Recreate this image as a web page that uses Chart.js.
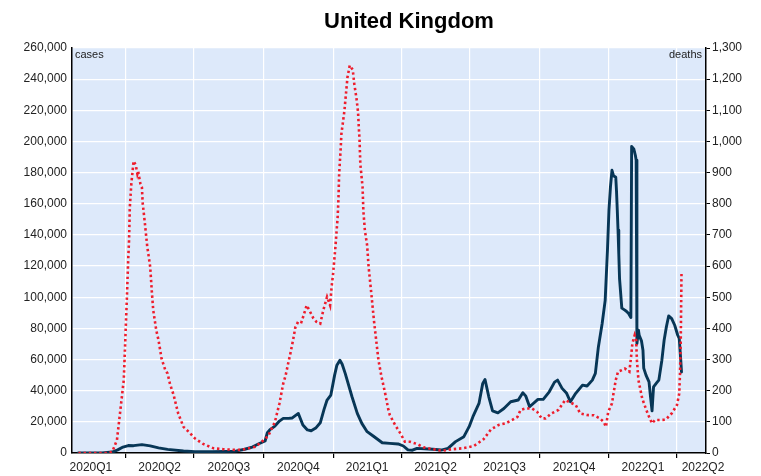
<!DOCTYPE html>
<html lang="en">
<head>
  <meta charset="UTF-8" />
  <title>United Kingdom</title>
  <script src="https://cdn.jsdelivr.net/npm/chart.js"></script>
  <style>
    body { margin: 0; background: #fff; }
    canvas { display: block; }
  </style>
</head>
<body>
  <canvas id="chart" width="761" height="476"></canvas>

  <script>
    // 7-day averages
    const caseDates = [
      '2020-01-30','2020-03-01','2020-03-15','2020-03-22','2020-03-29','2020-04-05','2020-04-12','2020-04-23',
      '2020-05-04','2020-05-15','2020-05-27','2020-06-17','2020-07-02','2020-07-25','2020-08-10','2020-08-25',
      '2020-09-06','2020-09-16','2020-09-24','2020-10-03','2020-10-06','2020-10-10','2020-10-16','2020-10-22',
      '2020-10-27','2020-11-03','2020-11-08','2020-11-12','2020-11-16','2020-11-22','2020-11-28','2020-12-03',
      '2020-12-09','2020-12-15','2020-12-20','2020-12-24','2020-12-29','2021-01-03','2021-01-06','2021-01-10',
      '2021-01-13','2021-01-17','2021-01-26','2021-02-02','2021-02-08','2021-02-15','2021-02-23','2021-03-07',
      '2021-03-17','2021-03-28','2021-04-04','2021-04-10','2021-04-16','2021-04-22','2021-05-13','2021-05-24',
      '2021-06-02','2021-06-12','2021-06-23','2021-06-30','2021-07-05','2021-07-13','2021-07-18','2021-07-21',
      '2021-07-26','2021-07-31','2021-08-07','2021-08-15','2021-08-24','2021-09-03','2021-09-09','2021-09-13',
      '2021-09-18','2021-09-29','2021-10-06','2021-10-14','2021-10-21','2021-10-25','2021-10-31','2021-11-06',
      '2021-11-11','2021-11-18','2021-11-27','2021-12-03','2021-12-10','2021-12-14','2021-12-18','2021-12-23',
      '2021-12-27','2021-12-30','2022-01-01','2022-01-03','2022-01-05','2022-01-07','2022-01-10','2022-01-11',
      '2022-01-12','2022-01-13','2022-01-14','2022-01-15','2022-01-18','2022-01-22','2022-01-24','2022-01-27',
      '2022-01-30','2022-01-31','2022-02-03','2022-02-05','2022-02-06','2022-02-07','2022-02-09','2022-02-10',
      '2022-02-13','2022-02-15','2022-02-16','2022-02-19','2022-02-23','2022-02-25','2022-02-27','2022-03-01',
      '2022-03-05','2022-03-08','2022-03-12','2022-03-15','2022-03-18','2022-03-21','2022-03-25','2022-03-29',
      '2022-04-02','2022-04-04','2022-04-06','2022-04-07'
    ];
    const caseValues = [
      0, 100, 600, 2000, 3800, 4800, 4700, 5400,
      4600, 3300, 2300, 1300, 900, 800, 1000, 1200,
      2400, 3800, 5800, 7700, 13000, 15200, 17300, 20500,
      22200, 22200, 22500, 24000, 25400, 18000, 14800, 14300,
      16000, 19400, 28000, 34000, 37200, 50000, 56400, 59600,
      57000, 51100, 36100, 25400, 19000, 13700, 10900, 6600,
      6200, 5800, 4500, 2000, 1800, 3000, 2400, 1900,
      3000, 7300, 10500, 16900, 23300, 31800, 44700, 47200,
      36100, 27100, 25800, 28600, 32900, 34000, 38700, 36500,
      29700, 34400, 34400, 39300, 45500, 46800, 41500, 38300,
      32900, 38300, 43600, 43000, 46800, 51100, 68100, 83100,
      98000, 130000, 156000, 171000, 181500, 178000, 177000, 168000,
      156000, 143000, 128000, 112000, 93000, 91700, 91000, 89500,
      87000, 196800, 195000, 191000, 188000, 70300, 78800, 75600,
      72000, 66000, 54500, 50000, 45700, 36000, 27100, 42500,
      45000, 46800, 59600, 72400, 81000, 88000, 86300, 82000,
      75600, 73500, 59600, 52000
    ];

    const deathDates = [
      '2020-01-30','2020-03-10','2020-03-15','2020-03-21','2020-03-25','2020-03-30','2020-04-01','2020-04-03',
      '2020-04-05','2020-04-06','2020-04-07','2020-04-09','2020-04-12','2020-04-15','2020-04-17','2020-04-18',
      '2020-04-21','2020-04-23','2020-04-24','2020-04-27','2020-04-30','2020-05-04','2020-05-06','2020-05-08',
      '2020-05-12','2020-05-15','2020-05-19','2020-05-24','2020-05-27','2020-05-30','2020-06-04','2020-06-10',
      '2020-06-17','2020-06-24','2020-07-02','2020-07-13','2020-07-27','2020-08-09','2020-08-24','2020-09-02',
      '2020-09-11','2020-09-20','2020-09-26','2020-10-07','2020-10-16','2020-10-22','2020-10-27','2020-10-30',
      '2020-11-03','2020-11-05','2020-11-09','2020-11-12','2020-11-16','2020-11-20','2020-11-23','2020-11-27',
      '2020-12-01','2020-12-06','2020-12-10','2020-12-15','2020-12-19','2020-12-24','2020-12-28','2020-12-30',
      '2021-01-01','2021-01-04','2021-01-07','2021-01-08','2021-01-09','2021-01-11','2021-01-12','2021-01-16',
      '2021-01-18','2021-01-20','2021-01-23','2021-01-27','2021-01-29','2021-02-01','2021-02-03','2021-02-04',
      '2021-02-05','2021-02-06','2021-02-09','2021-02-10','2021-02-12','2021-02-15','2021-02-17','2021-02-21',
      '2021-02-24','2021-02-27','2021-03-02','2021-03-06','2021-03-11','2021-03-15','2021-03-17','2021-03-24',
      '2021-03-31','2021-04-06','2021-04-13','2021-04-22','2021-05-01','2021-05-12','2021-05-25','2021-06-07',
      '2021-06-21','2021-07-06','2021-07-19','2021-07-29','2021-08-08','2021-08-17','2021-08-26','2021-09-02',
      '2021-09-06','2021-09-13','2021-09-21','2021-09-28','2021-10-04','2021-10-09','2021-10-17','2021-10-26',
      '2021-11-04','2021-11-09','2021-11-18','2021-11-24','2021-12-03','2021-12-12','2021-12-20','2021-12-25',
      '2021-12-28','2021-12-31','2022-01-05','2022-01-07','2022-01-10','2022-01-13','2022-01-18','2022-01-22',
      '2022-01-28','2022-01-30','2022-02-01','2022-02-04','2022-02-06','2022-02-07','2022-02-09','2022-02-14',
      '2022-02-18','2022-02-22','2022-02-27','2022-03-03','2022-03-10','2022-03-17','2022-03-25','2022-04-01',
      '2022-04-04','2022-04-05','2022-04-06','2022-04-07'
    ];
    const deathValues = [
      0, 0, 5, 42, 127, 234, 362, 490,
      629, 683, 789, 864, 937, 923, 896, 905,
      864, 853, 803, 736, 664, 597, 522, 458,
      394, 362, 303, 266, 255, 223, 186, 127,
      84, 68, 47, 29, 15, 12, 10, 10,
      15, 20, 31, 54, 100, 159, 223, 247,
      293, 314, 362, 403, 423, 420, 442, 474,
      456, 432, 421, 415, 458, 501, 474, 533,
      576, 660, 757, 811, 896, 977, 1025, 1099,
      1153, 1206, 1244, 1230, 1185, 1137, 1094, 1046,
      1003, 928, 853, 779, 715, 667, 597, 501,
      426, 362, 298, 245, 190, 140, 122, 90,
      63, 36, 36, 29, 18, 13, 7, 12,
      15, 22, 44, 76, 90, 95, 106, 116,
      138, 143, 143, 132, 111, 111, 127, 138,
      170, 164, 154, 127, 122, 121, 111, 100,
      84, 132, 159, 191, 234, 261, 266, 271,
      261, 303, 352, 378, 362, 298, 234, 175,
      148, 122, 95, 106, 106, 107, 127, 154,
      191, 255, 362, 581
    ];

    const quarterLabels = ['2020Q1','2020Q2','2020Q3','2020Q4','2021Q1','2021Q2','2021Q3','2021Q4','2022Q1','2022Q2'];
    const quarterStarts = ['2020-01-01','2020-04-01','2020-07-01','2020-10-01','2021-01-01','2021-04-01',
                           '2021-07-01','2021-10-01','2022-01-01','2022-04-01','2022-07-01'];

    function dayNum(s) {
      const [y, m, d] = s.split('-').map(Number);
      return (Date.UTC(y, m - 1, d) - Date.UTC(2020, 0, 1)) / 86400000;
    }

    const xMin = dayNum('2020-01-21') + 0.5;
    const xMax = dayNum('2022-05-09') + 0.4;

    // gridlines sit on quarter boundaries, labels in the middle of each quarter
    const boundaries = quarterStarts.map(dayNum).filter(v => v > xMin && v < xMax);
    const labelAt = {};
    quarterLabels.forEach((q, i) => {
      const a = dayNum(quarterStarts[i]), b = dayNum(quarterStarts[i + 1]);
      labelAt[Math.min((a + b) / 2, xMax - 4)] = q;
    });
    const tickValues = boundaries.concat(Object.keys(labelAt).map(Number)).sort((a, b) => a - b);
    const isBoundary = v => boundaries.includes(v);

    const fmt = v => Number(v).toLocaleString('en-US');

    const decor = {
      id: 'decor',
      beforeDraw(chart) {
        const { ctx, chartArea: a } = chart;
        ctx.save();
        ctx.fillStyle = '#dde9fa';
        ctx.fillRect(a.left, a.top, a.right - a.left, a.bottom - a.top);
        ctx.restore();
      },
      afterDraw(chart) {
        const { ctx, chartArea: a } = chart;
        ctx.save();
        ctx.fillStyle = '#000';
        ctx.font = 'bold 22px "Liberation Sans", Arial, sans-serif';
        ctx.textAlign = 'center';
        ctx.textBaseline = 'alphabetic';
        ctx.fillText('United Kingdom', 409, 28);
        ctx.font = '11px "Liberation Sans", Arial, sans-serif';
        ctx.fillStyle = '#222';
        ctx.textBaseline = 'middle';
        ctx.textAlign = 'left';
        ctx.fillText('cases', a.left + 3, a.top + 7);
        ctx.textAlign = 'right';
        ctx.fillText('deaths', a.right - 4, a.top + 7);
        ctx.restore();
      }
    };

    function renderChart() {
      const ctx = document.getElementById('chart').getContext('2d');
      new Chart(ctx, {
        type: 'line',
        data: {
          datasets: [
            {
              label: 'deaths',
              data: deathDates.map((d, i) => ({ x: dayNum(d), y: deathValues[i] })),
              yAxisID: 'y1',
              borderColor: '#ee1c2b',
              borderWidth: 2.6,
              borderDash: [2.4, 2.8],
              pointRadius: 0,
              fill: false,
              order: 0
            },
            {
              label: 'cases',
              data: caseDates.map((d, i) => ({ x: dayNum(d), y: caseValues[i] })),
              yAxisID: 'y',
              borderColor: '#073656',
              borderWidth: 2.9,
              borderJoinStyle: 'round',
              borderCapStyle: 'round',
              pointRadius: 0,
              fill: false,
              order: 1
            }
          ]
        },
        options: {
          responsive: false,
          animation: false,
          layout: { padding: { top: 48, left: 0, right: 0, bottom: 0 } },
          plugins: {
            legend: { display: false },
            title: { display: false },
            tooltip: { enabled: false }
          },
          scales: {
            x: {
              type: 'linear',
              min: xMin,
              max: xMax,
              afterBuildTicks: s => { s.ticks = tickValues.map(v => ({ value: v })); },
              afterFit: s => { s.height = 23; },
              ticks: {
                autoSkip: false,
                maxRotation: 0,
                padding: 2,
                color: '#222',
                font: { family: '"Liberation Sans", Arial, sans-serif', size: 12 },
                callback: v => labelAt[v] || ''
              },
              grid: {
                color: c => (c.tick && isBoundary(c.tick.value)) ? '#ffffff' : 'rgba(0,0,0,0)',
                tickColor: c => (c.tick && isBoundary(c.tick.value)) ? '#000' : 'rgba(0,0,0,0)',
                tickLength: 5,
                lineWidth: 1.2
              },
              border: { color: '#000', width: 1.5 }
            },
            y: {
              position: 'left',
              min: 0,
              max: 260000,
              afterFit: s => { s.width = 72; },
              ticks: {
                stepSize: 20000,
                padding: 5,
                color: '#222',
                font: { family: '"Liberation Sans", Arial, sans-serif', size: 12 },
                callback: fmt
              },
              grid: { color: '#ffffff', lineWidth: 1.2, drawTicks: false },
              border: { color: '#000', width: 1.5 }
            },
            y1: {
              position: 'right',
              min: 0,
              max: 1300,
              afterFit: s => { s.width = 55; },
              ticks: {
                stepSize: 100,
                padding: 2,
                color: '#222',
                font: { family: '"Liberation Sans", Arial, sans-serif', size: 12 },
                callback: fmt
              },
              grid: { drawOnChartArea: false, tickColor: '#000', tickLength: 4 },
              border: { color: '#000', width: 1.5 }
            }
          }
        },
        plugins: [decor]
      });
    }

    renderChart();
  </script>
</body>
</html>
